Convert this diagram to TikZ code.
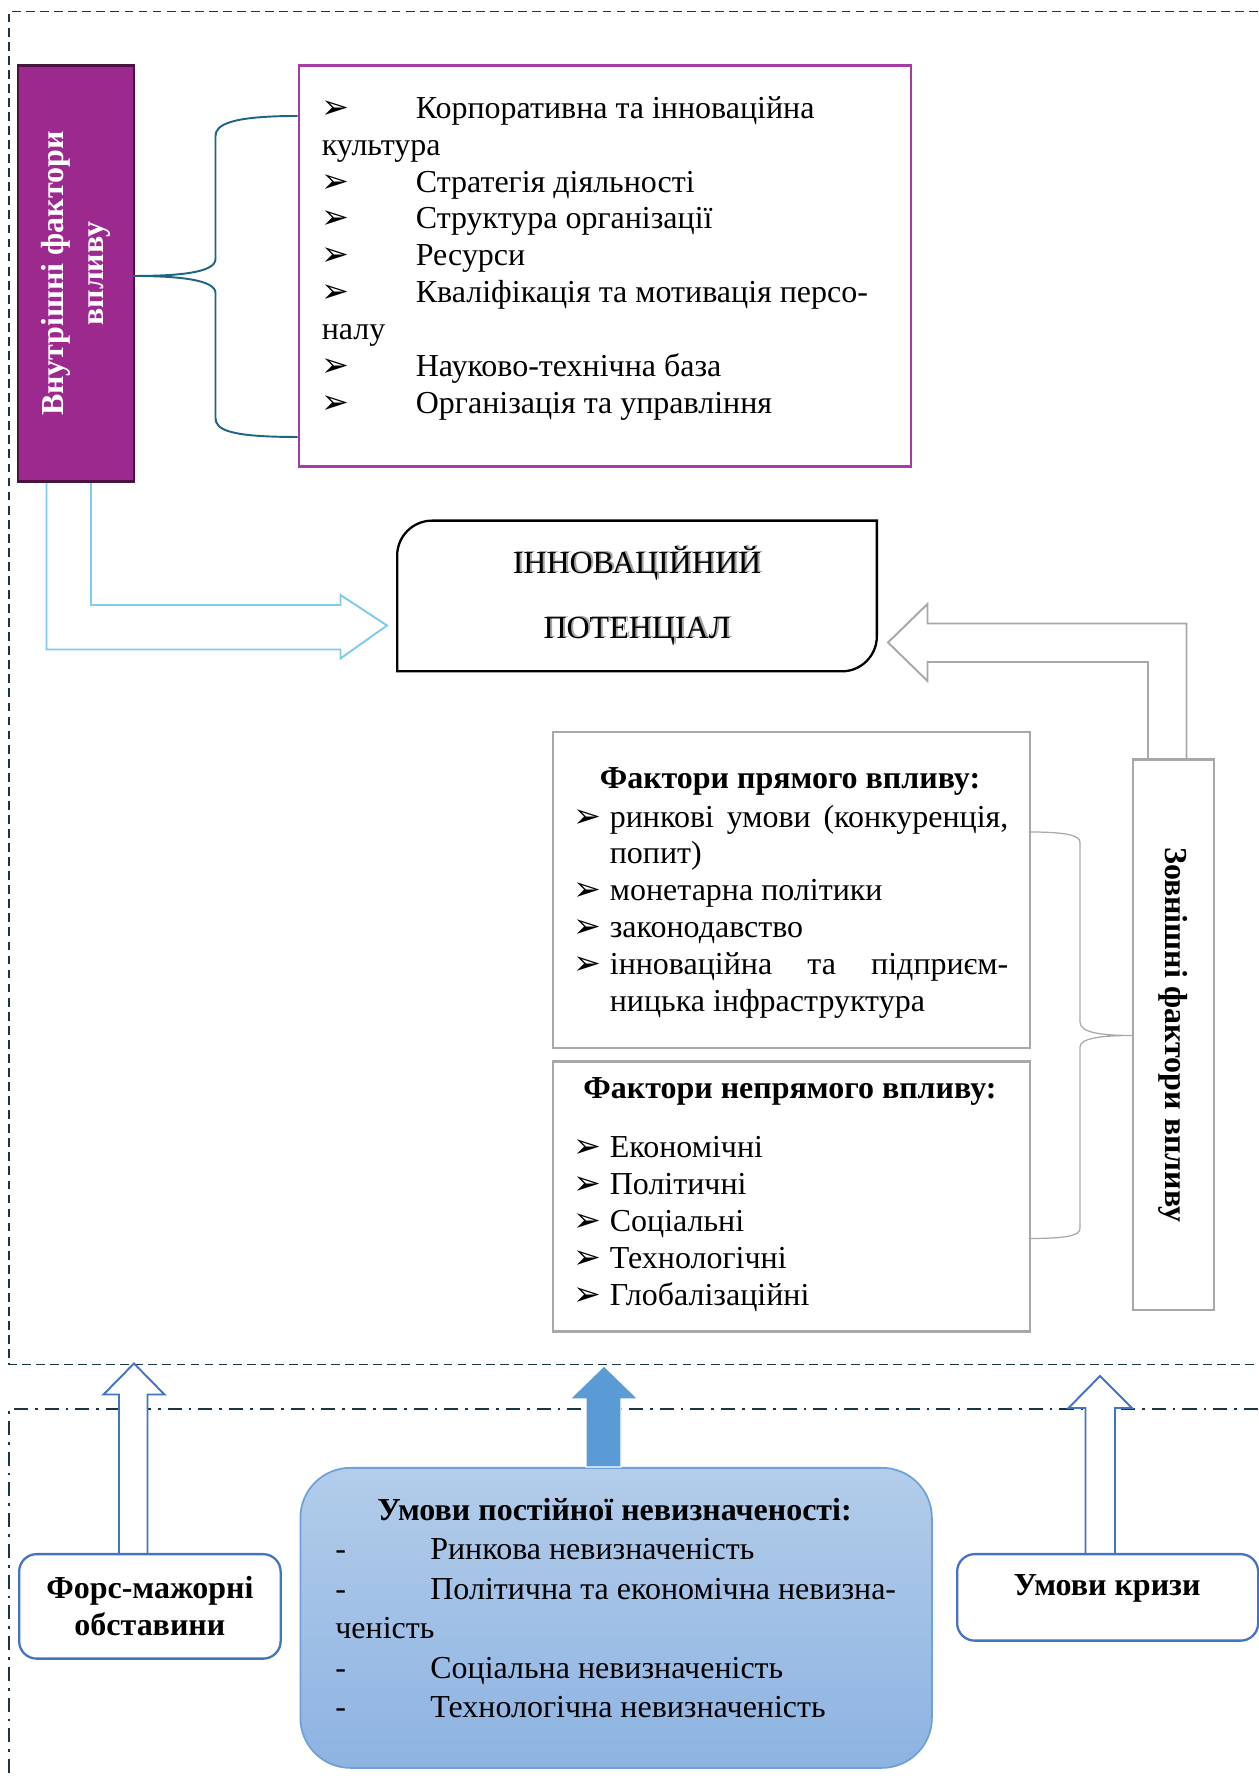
\documentclass[tikz,border=0pt]{standalone}
\usepackage{fontspec}
\setmainfont{Liberation Serif}
\newfontfamily\symfont{DejaVu Sans}

\definecolor{framecol}{HTML}{1B3542}
\definecolor{purplebox}{HTML}{9C2A8E}
\definecolor{purpledark}{HTML}{4A1442}
\definecolor{magentabox}{HTML}{A83CA4}
\definecolor{bracecol}{HTML}{1E6484}
\definecolor{skyarrow}{HTML}{80CBEB}
\definecolor{boxgray}{HTML}{A8A8A8}
\definecolor{bluebox}{HTML}{4472C4}
\definecolor{bluearrow}{HTML}{5B9BD5}
\definecolor{unctop}{HTML}{B3CDEA}
\definecolor{uncbot}{HTML}{8DB3E2}
\definecolor{uncborder}{HTML}{6FA0D8}

\newcommand{\arrbul}{{\symfont\fontsize{19}{19}\selectfont ➢}}
\newcommand{\mitem}{\makebox[1.88cm][l]{\arrbul}}
\newcommand{\pitem}{\makebox[0.72cm][l]{\arrbul}}
\newcommand{\uitem}{\makebox[1.90cm][l]{-}}

\begin{document}
\begin{tikzpicture}[
	txt/.style={font=\fontsize{18.2}{21}\selectfont, inner sep=0pt},
	btxt/.style={font=\bfseries\fontsize{18.2}{21}\selectfont, inner sep=0pt},
	graybox/.style={draw=boxgray, line width=1.2pt},
	hollow/.style={line width=1.1pt, fill=white},
	bluerect/.style={rounded corners=0.35cm, draw=bluebox, line width=1.3pt, fill=white}
	]
	\useasboundingbox (0,0) rectangle (25.16,35.6);
	% frames
	\draw [framecol, line width=1.1pt, dash pattern=on 5pt off 3pt] (25.16,35.37) -- (0.18,35.37) -- (0.18,8.31) -- (25.16,8.31);
	\draw [framecol, line width=1.1pt, dash pattern=on 8pt off 4pt on 1.5pt off 4pt] (25.16,7.42) -- (0.18,7.42) -- (0.18,0);

	% internal factors
	\draw [hollow, draw=skyarrow] (0.93,25.99) -- (0.93,22.61) -- (6.81,22.61) -- (6.81,22.43) -- (7.74,23.09) -- (6.81,23.70) -- (6.81,23.50) -- (1.82,23.50) -- (1.82,25.99);
	\node [draw=purpledark, line width=1.2pt, fill=purplebox, minimum width=2.32cm, minimum height=8.32cm, anchor=north west] (inner) at (0.34,34.31) {};
	\node [btxt, text=white, font=\bfseries\fontsize{18.2}{23}\selectfont, rotate=90, align=center] (innerlbl) at (inner.center) {Внутрішні фактори\\впливу};
	\node [draw=magentabox, line width=1.2pt, minimum width=12.24cm, minimum height=8.02cm, anchor=north west] (innerlist) at (5.95,34.31) {};
	\node [txt, align=left, anchor=north west] (innertext) at (6.43,33.68) {\mitem Корпоративна та інноваційна\\
		культура\\
		\mitem Стратегія діяльності\\
		\mitem Структура організації\\
		\mitem Ресурси\\
		\mitem Кваліфікація та мотивація персо-\\
		налу\\
		\mitem Науково-технічна база\\
		\mitem Організація та управління};
	\draw [bracecol, line width=1.1pt] (5.95,33.28) .. controls (4.6,33.28) and (4.31,33.1) .. (4.31,32.88) -- (4.31,30.42) .. controls (4.31,30.15) and (3.6,30.08) .. (2.66,30.08) .. controls (3.6,30.08) and (4.31,30.0) .. (4.31,29.74) -- (4.31,27.24) .. controls (4.31,27.0) and (4.6,26.86) .. (5.95,26.86);

	% potential
	\node [txt, align=center, text=black!35, font=\fontsize{18.2}{37}\selectfont] (potshadow) at (12.78,23.71) {ІННОВАЦІЙНИЙ\\ПОТЕНЦІАЛ};
	\node [txt, align=center, minimum width=9.58cm, minimum height=3.0cm, font=\fontsize{18.2}{37}\selectfont] (pot) at (12.74,23.68) {ІННОВАЦІЙНИЙ\\ПОТЕНЦІАЛ};
	\draw [line width=1.3pt] (pot.north east) -- ([xshift=0.7cm]pot.north west) arc (90:180:0.7) -- (pot.south west) -- ([xshift=-0.7cm]pot.south east) arc (270:360:0.7) -- cycle;

	% external factors
	\draw [hollow, draw=boxgray] (22.96,20.43) -- (22.96,22.36) -- (18.55,22.36) -- (18.55,21.98) -- (17.76,22.75) -- (18.55,23.52) -- (18.55,23.13) -- (23.73,23.13) -- (23.73,20.43);
	\node [graybox, minimum width=1.61cm, minimum height=11.01cm, anchor=north west] (outer) at (22.64,20.43) {};
	\node [btxt, rotate=-90] (outerlbl) at (outer.center) {Зовнішні фактори впливу};
	\node [graybox, minimum width=9.53cm, minimum height=6.32cm, anchor=north west] (direct) at (11.04,20.98) {};
	\node [btxt, anchor=base] (directlbl) at (15.80,19.82) {Фактори прямого впливу:};
	\node [txt, align=left, anchor=north west] (directtext) at (11.47,19.51) {\pitem\makebox[7.97cm][s]{ринкові умови (конкуренція,}\\
		\hspace*{0.72cm}попит)\\
		\pitem монетарна політики\\
		\pitem законодавство\\
		\pitem\makebox[7.97cm][s]{інноваційна та підприєм-}\\
		\hspace*{0.72cm}ницька інфраструктура};
	\node [graybox, minimum width=9.53cm, minimum height=5.40cm, anchor=north west] (indirect) at (11.04,14.39) {};
	\node [btxt, anchor=base] (indirectlbl) at (15.80,13.62) {Фактори непрямого впливу:};
	\node [txt, align=left, anchor=north west] (indirecttext) at (11.47,12.88) {\pitem Економічні\\
		\pitem Політичні\\
		\pitem Соціальні\\
		\pitem Технологічні\\
		\pitem Глобалізаційні};
	\draw [boxgray, line width=0.7pt] (20.57,18.96) .. controls (21.3,18.96) and (21.60,18.9) .. (21.60,18.75) -- (21.60,15.16) .. controls (21.60,14.95) and (22.0,14.89) .. (22.64,14.89) .. controls (22.0,14.89) and (21.60,14.83) .. (21.60,14.66) -- (21.60,11.03) .. controls (21.60,10.88) and (21.3,10.83) .. (20.57,10.83);

	% uncertainty
	\draw [hollow, draw=bluebox] (2.38,4.54) -- (2.38,7.71) -- (2.07,7.71) -- (2.68,8.33) -- (3.29,7.71) -- (2.95,7.71) -- (2.95,4.54);
	\node [bluerect, minimum width=5.23cm, minimum height=2.09cm, anchor=north west] (force) at (0.36,4.54) {};
	\node [btxt, align=center] (forcelbl) at (force.center) {Форс-мажорні\\обставини};
	\node [rounded corners=1cm, draw=uncborder, line width=1pt, top color=unctop, bottom color=uncbot, minimum width=12.63cm, minimum height=6.0cm, anchor=north west] (unc) at (5.99,6.26) {};
	\draw [fill=bluearrow, draw=white, line width=0.6pt] (11.72,6.26) -- (11.72,7.62) -- (11.40,7.62) -- (12.08,8.28) -- (12.76,7.62) -- (12.42,7.62) -- (12.42,6.26) -- cycle;
	\node [btxt, anchor=base] (unclbl) at (12.29,5.19) {Умови постійної невизначеності:};
	\node [txt, align=left, anchor=north west, font=\fontsize{18.2}{22.5}\selectfont] (unctext) at (6.70,4.84) {\uitem Ринкова невизначеність\\
		\uitem Політична та економічна невизна-\\
		ченість\\
		\uitem Соціальна невизначеність\\
		\uitem Технологічна невизначеність};
	\draw [hollow, draw=bluebox] (21.71,4.54) -- (21.71,7.44) -- (21.37,7.44) -- (22.00,8.08) -- (22.64,7.44) -- (22.30,7.44) -- (22.30,4.54);
	\node [bluerect, minimum width=6.02cm, minimum height=1.73cm, anchor=north west] (crisis) at (19.12,4.54) {};
	\node [btxt] (crisislbl) at (22.14,3.83) {Умови кризи};
\end{tikzpicture}
\end{document}
